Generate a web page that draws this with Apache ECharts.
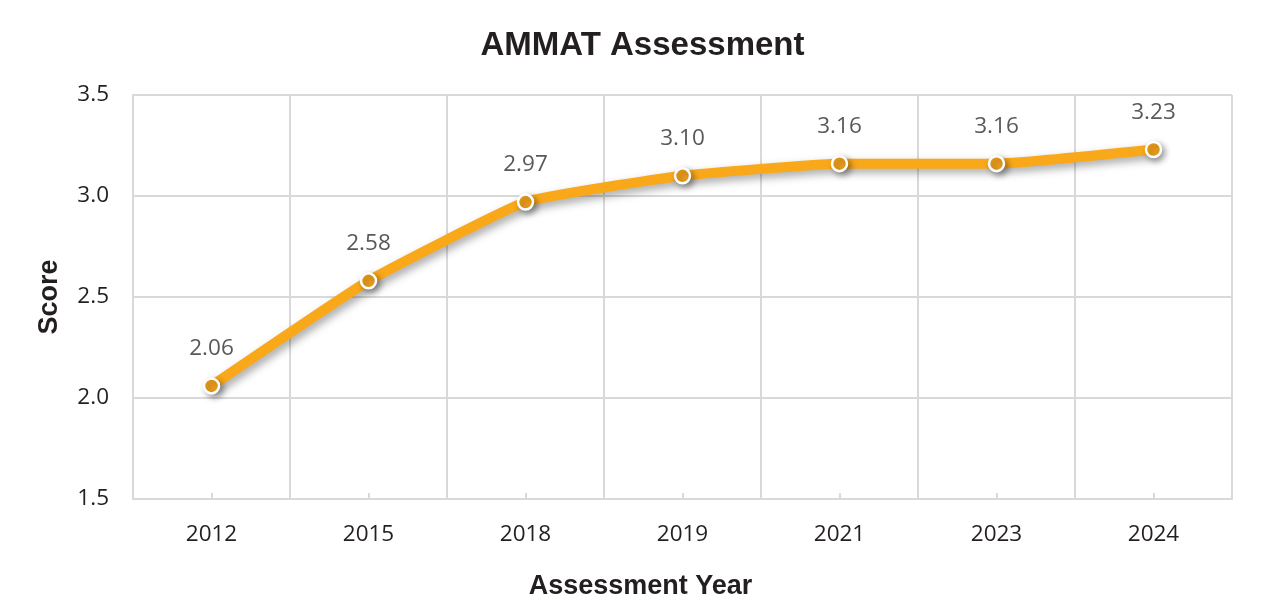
<!DOCTYPE html>
<html>
<head>
<meta charset="utf-8">
<script src="https://cdn.jsdelivr.net/npm/echarts@6/dist/echarts.min.js"></script>
<style>html,body{margin:0;padding:0;background:#fff;}#c{width:1285px;height:611px;}</style>
</head>
<body>
<div id="c"></div>
<script>
const categories = ['2012', '2015', '2018', '2019', '2021', '2023', '2024'];
const scores = [2.06, 2.58, 2.97, 3.10, 3.16, 3.16, 3.23];
const yTicks = { min: 1.5, max: 3.5, interval: 0.5 };

const chart = echarts.init(document.getElementById('c'));
chart.setOption({
  backgroundColor: '#fff',
  animation: false,
  title: {
    text: 'AMMAT Assessment',
    left: 'center',
    top: 24,
    textStyle: { fontFamily: 'Liberation Sans', fontWeight: 'bold', fontSize: 33, color: '#231f20' }
  },
  grid: { left: 133, right: 53, top: 95, bottom: 112 },
  xAxis: {
    type: 'category',
    data: categories,
    boundaryGap: true,
    name: 'Assessment Year',
    nameLocation: 'middle',
    nameGap: 74,
    nameTextStyle: { fontFamily: 'Liberation Sans', fontWeight: 'bold', fontSize: 27, color: '#231f20', padding: [0, 84, 0, 0] },
    axisLine: { lineStyle: { color: '#d9d9d9', width: 2 } },
    axisTick: { show: true, inside: true, alignWithLabel: true, length: 6, lineStyle: { color: '#d9d9d9', width: 2 } },
    axisLabel: { fontFamily: 'Open Sans', fontSize: 22.5, color: '#231f20', margin: 24 },
    splitLine: { show: true, lineStyle: { color: '#d9d9d9', width: 2 } }
  },
  yAxis: {
    type: 'value',
    min: yTicks.min,
    max: yTicks.max,
    interval: yTicks.interval,
    name: 'Score',
    nameLocation: 'middle',
    nameGap: 70,
    nameRotate: 90,
    nameTextStyle: { fontFamily: 'Liberation Sans', fontWeight: 'bold', fontSize: 27, color: '#231f20' },
    axisLine: { show: true, lineStyle: { color: '#d9d9d9', width: 2 } },
    axisTick: { show: false },
    axisLabel: { fontFamily: 'Open Sans', fontSize: 22.5, color: '#231f20', margin: 24, formatter: v => v.toFixed(1) },
    splitLine: { show: true, lineStyle: { color: '#d9d9d9', width: 2 } }
  },
  series: [{
    type: 'line',
    data: scores,
    smooth: 0.12,
    symbol: 'circle',
    symbolSize: 15,
    lineStyle: { color: '#f9a81a', width: 10, shadowColor: 'rgba(0,0,0,0.35)', shadowBlur: 8, shadowOffsetX: 3, shadowOffsetY: 4 },
    itemStyle: { color: '#f0a01c', borderColor: '#fff', borderWidth: 2.5, shadowColor: 'rgba(0,0,0,0.35)', shadowBlur: 6, shadowOffsetX: 3, shadowOffsetY: 3 },
    label: {
      show: true,
      position: 'top',
      distance: 17,
      fontFamily: 'Open Sans',
      fontSize: 22.5,
      color: '#595959',
      formatter: p => p.value.toFixed(2)
    }
  }]
});
</script>
</body>
</html>
